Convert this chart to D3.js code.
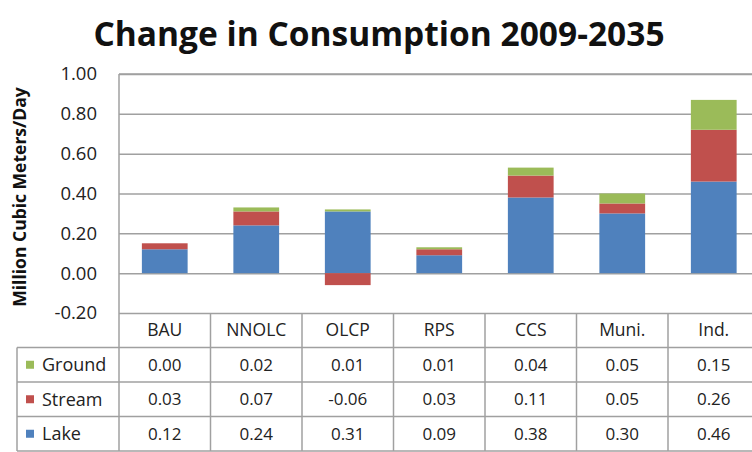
<!DOCTYPE html>
<html>
<head>
<meta charset="utf-8">
<script src="https://cdn.jsdelivr.net/npm/d3@7"></script>
<style>
  body { margin: 0; background: #fff; }
  svg { display: block; font-family: 'Open Sans', sans-serif; }
</style>
</head>
<body>
<svg></svg>
<script>
const categories = ['BAU', 'NNOLC', 'OLCP', 'RPS', 'CCS', 'Muni.', 'Ind.'];
const lake = [0.12, 0.24, 0.31, 0.09, 0.38, 0.30, 0.46];
const stream = [0.03, 0.07, -0.06, 0.03, 0.11, 0.05, 0.26];
const ground = [0.00, 0.02, 0.01, 0.01, 0.04, 0.05, 0.15];
const seriesNames = ['Lake', 'Stream', 'Ground'];
const yTicks = [-0.2, 0, 0.2, 0.4, 0.6, 0.8, 1.0];

const size = {w: 752, h: 452};
const margin = {t: 74, l: 119};
const plotH = 239;
const rowH = 34.5;
const colors = {Lake: '#4f81bd', Stream: '#c0504d', Ground: '#9bbb59'};
const lineColor = '#a0a0a0';
const fmt = d => d.toFixed(2); // plain hyphen for negatives, like the original

const svg = d3.select('svg')
    .attr('width', size.w)
    .attr('height', size.h);

const rows = categories.map((c, i) => ({cat: c, Lake: lake[i], Stream: stream[i], Ground: ground[i]}));

const x = d3.scaleBand()
    .domain(categories)
    .range([margin.l, margin.l + 7 * 91.5])
    .paddingInner(0.5)
    .paddingOuter(0.25);

const y = d3.scaleLinear()
    .domain([-0.2, 1.0])
    .range([margin.t + plotH, margin.t]);

const right = margin.l + 7 * 91.5;

// title
svg.append('text')
    .attr('x', 379)
    .attr('y', 46)
    .attr('text-anchor', 'middle')
    .attr('font-size', 33.5)
    .attr('font-weight', 'bold')
    .attr('fill', '#111')
    .text('Change in Consumption 2009-2035');

// gridlines
svg.append('g')
    .attr('transform', `translate(${margin.l},0)`)
    .call(d3.axisLeft(y).tickValues(yTicks).tickSize(-(right - margin.l)).tickFormat(''))
    .call(g => g.select('.domain').remove())
    .call(g => g.selectAll('line').attr('stroke', lineColor).attr('stroke-width', 1.5));

// y labels
svg.append('g')
    .attr('transform', `translate(${margin.l - 19},0)`)
    .call(d3.axisLeft(y).tickValues(yTicks).tickSize(0).tickFormat(fmt))
    .call(g => g.select('.domain').remove())
    .call(g => g.selectAll('text')
        .attr('font-family', "'Open Sans', sans-serif")
        .attr('font-size', 18.5)
        .attr('fill', '#222'));

svg.append('text')
    .attr('transform', `translate(26,${197}) rotate(-90)`)
    .attr('text-anchor', 'middle')
    .attr('font-size', 17.5)
    .attr('font-weight', 'bold')
    .attr('fill', '#111')
    .text('Million Cubic Meters/Day');

// bars
const stacked = d3.stack()
    .keys(seriesNames)
    .offset(d3.stackOffsetDiverging)(rows);

svg.append('g')
    .selectAll('g')
    .data(stacked)
    .join('g')
    .attr('fill', d => colors[d.key])
    .selectAll('rect')
    .data(d => d)
    .join('rect')
    .attr('x', d => x(d.data.cat))
    .attr('width', x.bandwidth())
    .attr('y', d => y(Math.max(d[0], d[1])))
    .attr('height', d => Math.abs(y(d[0]) - y(d[1])));

// table
const tableTop = margin.t + plotH;
const table = svg.append('g');
const colEdges = d3.range(8).map(i => margin.l + i * 91.5);
const tableBottom = tableTop + rowH * 4;

table.selectAll('line.v')
    .data(colEdges)
    .join('line')
    .attr('x1', d => d).attr('x2', d => d)
    .attr('y1', (d, i) => i === 0 ? margin.t : tableTop)
    .attr('y2', tableBottom)
    .attr('stroke', lineColor).attr('stroke-width', 1.5);

table.append('line')
    .attr('x1', 17).attr('x2', 17)
    .attr('y1', tableTop + rowH).attr('y2', tableBottom)
    .attr('stroke', lineColor).attr('stroke-width', 1.5);

table.selectAll('line.h')
    .data(d3.range(1, 5))
    .join('line')
    .attr('x1', 17).attr('x2', right)
    .attr('y1', d => tableTop + d * rowH)
    .attr('y2', d => tableTop + d * rowH)
    .attr('stroke', lineColor).attr('stroke-width', 1.5);

table.append('line')
    .attr('x1', margin.l).attr('x2', right)
    .attr('y1', margin.t).attr('y2', margin.t)
    .attr('stroke', lineColor).attr('stroke-width', 1.5);

table.selectAll('text.head')
    .data(categories)
    .join('text')
    .attr('x', d => x(d) + x.bandwidth() / 2)
    .attr('y', tableTop + rowH / 2)
    .attr('dy', '0.35em')
    .attr('text-anchor', 'middle')
    .attr('font-size', 17.5)
    .attr('fill', '#222')
    .text(d => d);

const tableRows = [
    {name: 'Ground', vals: ground},
    {name: 'Stream', vals: stream},
    {name: 'Lake', vals: lake}
];

const rowG = table.selectAll('g.row')
    .data(tableRows)
    .join('g')
    .attr('transform', (d, i) => `translate(0,${tableTop + (i + 1) * rowH})`);

rowG.append('rect')
    .attr('x', 26).attr('y', rowH / 2 - 4)
    .attr('width', 8).attr('height', 8)
    .attr('fill', d => colors[d.name]);

rowG.append('text')
    .attr('x', 42)
    .attr('y', rowH / 2)
    .attr('dy', '0.35em')
    .attr('font-size', 18)
    .attr('fill', '#222')
    .text(d => d.name);

rowG.selectAll('text.val')
    .data(d => d.vals)
    .join('text')
    .attr('x', (d, i) => x(categories[i]) + x.bandwidth() / 2)
    .attr('y', rowH / 2)
    .attr('dy', '0.35em')
    .attr('text-anchor', 'middle')
    .attr('font-size', 17)
    .attr('fill', '#222')
    .text(d => fmt(d));
</script>
</body>
</html>
